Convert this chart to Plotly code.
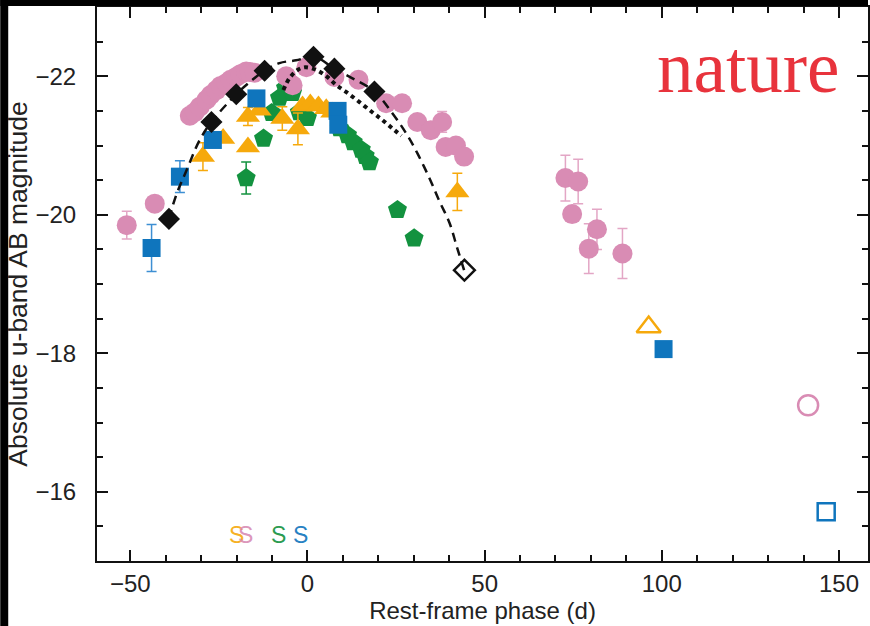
import plotly.graph_objects as go

# ---------------- data ----------------
# pink circles
pink_x = [-51.0, -43.1, -33.2, -31.8, -30.4, -28.5, -27.3, -25.7, -24.5, -22.9, -21.7, -20.1, -18.9,
          -17.3, -16.3, -14.9, -6.0, -4.2, -0.3, 7.6, 14.4, 22.2, 26.7, 31.0, 34.8, 38.0, 39.0, 41.9,
          44.2, 72.8, 76.4, 74.7, 81.7, 79.4, 88.9]
pink_y = [-19.85, -20.16, -21.43, -21.48, -21.56, -21.66, -21.73, -21.80, -21.86, -21.90, -21.95, -21.99,
          -22.03, -22.07, -22.06, -22.05, -22.00, -21.87, -22.13, -21.99, -21.95, -21.61, -21.61, -21.34,
          -21.22, -21.34, -20.98, -21.00, -20.84, -20.53, -20.48, -20.01, -19.79, -19.51, -19.44]
pink_err = [0.20, 0, 0, 0, 0, 0, 0, 0, 0, 0, 0, 0, 0, 0, 0, 0, 0, 0, 0, 0, 0, 0, 0, 0, 0, 0.15, 0, 0,
            0, 0.33, 0.32, 0, 0.29, 0.36, 0.36]
pink_open_x = [141.3]
pink_open_y = [-17.25]

# black diamonds
blk_x = [-39.1, -27.1, -20.1, -12.1, 1.7, 7.6, 18.9]
blk_y = [-19.94, -21.34, -21.74, -22.08, -22.28, -22.11, -21.78]
blk_open_x = [44.3]
blk_open_y = [-19.20]

# dashed model curve
dash_x = [-39.1, -37.0, -34.3, -30.4, -27.1, -20.1, -15.5, -12.1, -7.9, -3.2, 2.0, 7.6, 12.7, 18.9,
          23.9, 27.8, 31.0, 34.4, 37.2, 40.1, 42.2, 44.2]
dash_y = [-19.94, -20.29, -20.62, -21.08, -21.34, -21.74, -21.95, -22.08, -22.19, -22.23, -22.28, -22.11,
          -21.97, -21.78, -21.47, -21.18, -20.89, -20.53, -20.20, -19.88, -19.53, -19.20]

# dotted model curve
dot_x = [-6.8, -5.1, -2.8, -0.6, 2.5, 5.6, 8.2, 11.0, 14.6, 18.3, 21.1, 23.9, 26.5]
dot_y = [-21.80, -21.97, -22.09, -22.13, -22.09, -21.99, -21.87, -21.77, -21.63, -21.48, -21.37, -21.25,
         -21.14]

# blue squares
blue_x = [-44.0, -36.0, -26.7, -14.4, 8.5, 8.7, 100.5]
blue_y = [-19.52, -20.55, -21.08, -21.68, -21.50, -21.30, -18.06]
blue_err = [0.34, 0.23, 0, 0, 0, 0, 0]
blue_open_x = [146.4]
blue_open_y = [-15.71]

# orange triangles
orange_x = [-29.5, -23.8, -16.8, -16.8, -13.5, -7.1, -2.7, -1.4, 0.8, 3.1, 5.3, 7.0, 42.3]
orange_y = [-20.84, -21.10, -20.98, -21.42, -21.51, -21.39, -21.24, -21.57, -21.60, -21.57, -21.53,
            -21.48, -20.33]
orange_err = [0.20, 0, 0, 0.13, 0, 0.17, 0.23, 0, 0, 0, 0, 0, 0.27]
orange_open_x = [96.3]
orange_open_y = [-18.38]

# green pentagons
green_x = [-17.3, -12.4, -10.1, -7.9, -6.2, -4.2, -2.3, 0.0, 9.0, 11.3, 12.9, 15.2, 16.3, 17.5, 25.4, 30.1]
green_y = [-20.53, -21.10, -21.47, -21.69, -21.83, -21.76, -21.48, -21.40, -21.25, -21.15, -21.05,
           -20.94, -20.85, -20.76, -20.07, -19.66]
green_err = [0.23, 0, 0, 0, 0, 0, 0, 0, 0, 0, 0, 0, 0, 0, 0, 0]

# "S" markers
s_x = [-20.1, -17.6, -8.2, -2.1]
s_y = [-15.38, -15.38, -15.38, -15.38]
s_colors = ["#f6a90c", "#d98cb4", "#13923f", "#0f75bd"]

x_ticks = [-50, 0, 50, 100, 150]
y_ticks = [-22, -20, -18, -16]

# ---------------- styles ----------------
PINK = "#d98cb4"
BLUE = "#0f75bd"
ORANGE = "#f6a90c"
GREEN = "#13923f"
BLACK = "#111111"
FONT = "Liberation Sans, Arial, Helvetica, sans-serif"

W, H = 870, 626
ML, MR, MT, MB = 97, 0, 7, 65
PW, PH = W - ML - MR, H - MT - MB

fig = go.Figure()


def err(vals, color):
    return dict(type="data", array=vals, visible=True, color=color, thickness=1.5, width=5)


fig.add_trace(go.Scatter(x=green_x, y=green_y, mode="markers",
                         marker=dict(symbol="pentagon", size=20, color=GREEN),
                         error_y=err(green_err, GREEN)))
fig.add_trace(go.Scatter(x=orange_x, y=orange_y, mode="markers",
                         marker=dict(symbol="triangle-up", size=21, color=ORANGE),
                         error_y=err(orange_err, ORANGE)))
fig.add_trace(go.Scatter(x=blue_x, y=blue_y, mode="markers",
                         marker=dict(symbol="square", size=18, color=BLUE),
                         error_y=err(blue_err, "#3d8fd3")))
fig.add_trace(go.Scatter(x=pink_x, y=pink_y, mode="markers",
                         marker=dict(symbol="circle", size=20, color=PINK),
                         error_y=err(pink_err, "#e3a6c5")))
fig.add_trace(go.Scatter(x=dot_x, y=dot_y, mode="lines",
                         line=dict(color=BLACK, width=4, dash="4px,4px", shape="spline")))
fig.add_trace(go.Scatter(x=dash_x, y=dash_y, mode="lines",
                         line=dict(color=BLACK, width=2.5, dash="9px,6px", shape="spline")))
fig.add_trace(go.Scatter(x=blk_x, y=blk_y, mode="markers",
                         marker=dict(symbol="diamond", size=17, color=BLACK)))

# open (late-time) symbols
fig.add_trace(go.Scatter(x=pink_open_x, y=pink_open_y, mode="markers",
                         marker=dict(symbol="circle-open", size=20, color=PINK, line=dict(width=2.5))))
fig.add_trace(go.Scatter(x=orange_open_x, y=orange_open_y, mode="markers",
                         marker=dict(symbol="triangle-up-open", size=21, color=ORANGE, line=dict(width=2.5))))
fig.add_trace(go.Scatter(x=blue_open_x, y=blue_open_y, mode="markers",
                         marker=dict(symbol="square-open", size=17, color=BLUE, line=dict(width=2.5))))
fig.add_trace(go.Scatter(x=blk_open_x, y=blk_open_y, mode="markers",
                         marker=dict(symbol="diamond-open", size=16, color=BLACK, line=dict(width=2.5))))

annotations = []
for sx, sy, c in zip(s_x, s_y, s_colors):
    annotations.append(dict(x=sx, y=sy, xref="x", yref="y", text="S", showarrow=False,
                            xanchor="center", yanchor="middle",
                            font=dict(family=FONT, size=23, color=c), opacity=0.9))

annotations.append(dict(x=(750 - ML) / PW, y=1 - (67 - MT) / PH, xref="paper", yref="paper", text="nature",
                        showarrow=False, xanchor="center", yanchor="middle",
                        font=dict(family="Liberation Serif, Times New Roman, serif", size=73, color="#e8333c")))

axis_common = dict(showline=True, linecolor=BLACK, linewidth=2, mirror="ticks", ticks="inside",
                   tickcolor=BLACK, tickwidth=2, ticklen=11, showgrid=False, zeroline=False,
                   tickfont=dict(family=FONT, size=24, color="#222"))

fig.update_layout(
    width=W, height=H,
    margin=dict(l=ML, r=MR, t=MT, b=MB),
    paper_bgcolor="white", plot_bgcolor="white",
    showlegend=False,
    xaxis=dict(range=[-59.4, 158.2], tickvals=x_ticks, ticktext=[str(v).replace("-", "\u2212") for v in x_ticks],
               minor=dict(dtick=10, tick0=0, ticks="inside", ticklen=6, tickwidth=1.5, tickcolor=BLACK),
               title=dict(text="Rest-frame phase (d)", font=dict(family=FONT, size=24, color="#222"), standoff=2),
               ticklabelstandoff=0,
               **axis_common),
    yaxis=dict(range=[-15, -23], tickvals=y_ticks, ticktext=[str(v).replace("-", "\u2212") for v in y_ticks],
               minor=dict(dtick=0.5, tick0=0, ticks="inside", ticklen=6, tickwidth=1.5, tickcolor=BLACK),
               title=dict(text="Absolute u-band AB magnitude", font=dict(family=FONT, size=26.5, color="#222"),
                          standoff=0),
               ticklabelstandoff=14,
               **axis_common),
    annotations=annotations,
)

# black screenshot borders (top and left strips)
fig.add_shape(type="rect", xref="paper", yref="paper", x0=-ML / PW, x1=-(ML - 8) / PW, y0=-MB / PH,
              y1=1 + MT / PH, fillcolor="black", line=dict(width=0), layer="above")
fig.add_shape(type="rect", xref="paper", yref="paper", x0=-ML / PW, x1=1.0, y0=1 + 1 / PH, y1=1 + MT / PH,
              fillcolor="black", line=dict(width=0), layer="above")

fig.write_html("out.html", config={"displayModeBar": False},
               post_script="document.body.style.margin='0';document.body.style.overflow='hidden';")
